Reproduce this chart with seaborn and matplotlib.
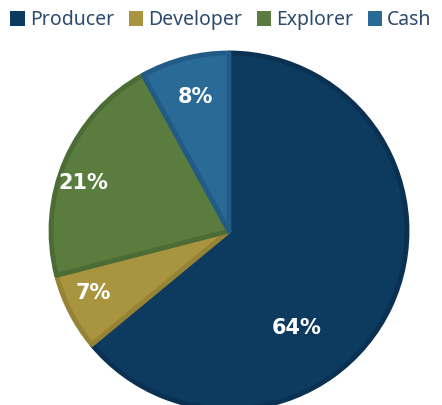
import matplotlib
matplotlib.use('Agg')
import matplotlib.pyplot as plt
import seaborn as sns
from matplotlib.patches import Patch

sns.set_theme(style='white')
plt.rcParams['font.family'] = ['Noto Sans', 'DejaVu Sans']

# data
categories = ['Producer', 'Developer', 'Explorer', 'Cash']
shares = [64, 7, 21, 8]
colors = ['#0d3a5f', '#a9953f', '#5a7d3f', '#2a6a97']
edges = ['#0a3152', '#978336', '#4c6c36', '#225b85']

W, H = 442, 405
fig = plt.figure(figsize=(W / 100, H / 100), dpi=100)
fig.patch.set_facecolor('white')

# pie: centre (229, 231) px, radius 178 px
cx, cy, r = 229, 231, 178
ax = fig.add_axes([(cx - r) / W, (H - cy - r) / H, 2 * r / W, 2 * r / H])

wedges, texts, autotexts = ax.pie(
    shares, colors=colors, startangle=90, counterclock=False,
    autopct='%d%%', pctdistance=0.82,
    wedgeprops=dict(linewidth=3.5, joinstyle='round'),
    textprops=dict(color='white', fontsize=15, fontweight='bold',
                   family=['DejaVu Sans']))
for w, e in zip(wedges, edges):
    w.set_edgecolor(e)
ax.set_xlim(-1, 1)
ax.set_ylim(-1, 1)
ax.axis('off')

# label placement tweaks (Excel best-fit style)
autotexts[0].set_position((0.38, -0.545))
autotexts[1].set_position((-0.76, -0.35))
autotexts[2].set_position((-0.82, 0.27))
autotexts[3].set_position((-0.19, 0.755))

handles = [Patch(facecolor=c, edgecolor='none') for c in colors]
fig.legend(handles, categories, loc='upper center', bbox_to_anchor=(0.5, 1.018),
           ncol=4, frameon=False, fontsize=14, handlelength=0.75,
           handleheight=0.75, handletextpad=0.25, columnspacing=0.75,
           labelcolor='#2d4b6b')

fig.savefig('out.png', dpi=100)
